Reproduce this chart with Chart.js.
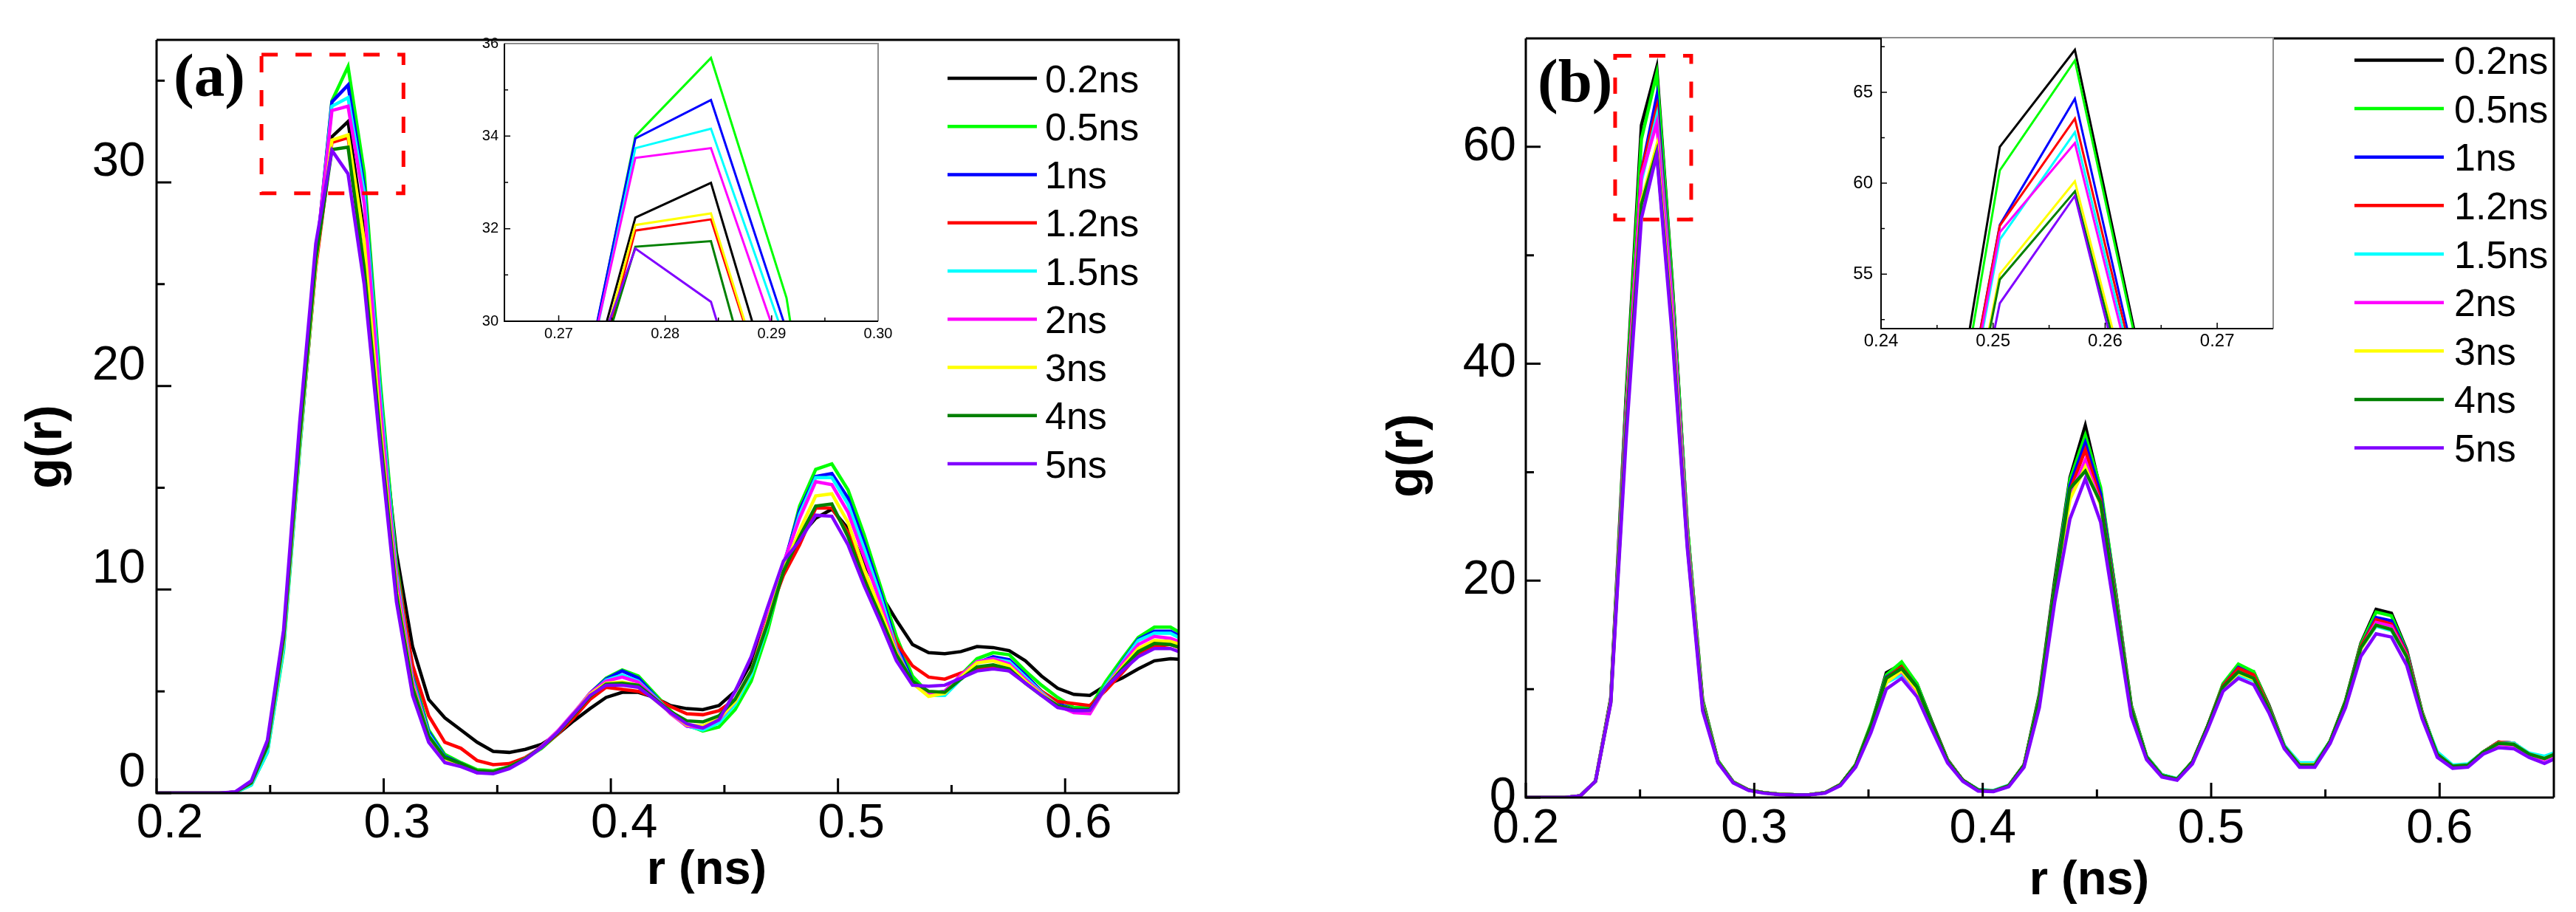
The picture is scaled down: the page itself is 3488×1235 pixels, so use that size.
<!DOCTYPE html>
<html>
<head>
<meta charset="utf-8">
<script src="https://cdn.jsdelivr.net/npm/chart.js@4.4.0/dist/chart.umd.min.js"></script>
<style>
  body { margin: 0; background: #fff; }
  #wrap { position: relative; width: 3488px; height: 1235px; background: #fff; }
  canvas { position: absolute; }
</style>
</head>
<body>
<div id="wrap">
  <canvas id="mainA" width="1744" height="1235" style="left:0;top:0;width:1744px;height:1235px"></canvas>
  <canvas id="mainB" width="1744" height="1235" style="left:1744px;top:0;width:1744px;height:1235px"></canvas>
  <canvas id="insetA" width="620" height="470" style="left:600px;top:30px;width:620px;height:470px"></canvas>
  <canvas id="insetB" width="640" height="470" style="left:2470px;top:20px;width:640px;height:470px"></canvas>
</div>
<script>
// ---- data ----
const seriesLabels = ["0.2ns", "0.5ns", "1ns", "1.2ns", "1.5ns", "2ns", "3ns", "4ns", "5ns"];

// r grid of panel (a)
const rA = [0.1991,0.2062,0.2133,0.2204,0.2275,0.2346,0.2417,0.2488,0.2559,0.2630,
  0.2701,0.2772,0.2843,0.2914,0.2985,0.3056,0.3127,0.3198,0.3269,0.3340,
  0.3411,0.3482,0.3553,0.3624,0.3695,0.3766,0.3837,0.3908,0.3979,0.4050,
  0.4121,0.4192,0.4263,0.4334,0.4405,0.4476,0.4547,0.4618,0.4689,0.4760,
  0.4831,0.4902,0.4973,0.5044,0.5115,0.5186,0.5257,0.5328,0.5399,0.5470,
  0.5541,0.5612,0.5683,0.5754,0.5825,0.5896,0.5967,0.6038,0.6109,0.6180,
  0.6251,0.6322,0.6393,0.6464,0.6535];

const a02 = [0,0,0,0,0,
  0.05,0.5,2.2,7.4,17.2,26.3,
  32.24,32.99,27.5,19.2,11.8,7.2,4.6,3.7,
  3.1,2.5,2.05,2.0,2.15,2.4,2.9,3.55,4.15,4.7,
  4.95,4.95,4.7,4.3,4.15,4.1,4.3,5.0,6.4,8.5,
  10.8,12.6,13.5,13.95,13.0,11.3,9.8,8.5,7.3,6.9,
  6.85,6.95,7.2,7.15,7.0,6.5,5.75,5.15,4.85,4.8,
  5.3,5.65,6.1,6.5,6.6,6.55];
const a05 = [0,0,0,0,0,
  0.03,0.4,2.0,7.0,16.8,26.0,
  34.0,35.69,30.5,20.2,11.3,6.0,3.1,1.9,
  1.5,1.15,1.1,1.3,1.7,2.2,2.9,3.85,4.9,5.65,
  6.05,5.75,4.9,4.05,3.35,3.05,3.25,4.1,5.5,7.9,
  11.0,14.1,15.9,16.17,14.9,12.7,10.2,7.7,5.75,4.9,
  4.95,5.8,6.6,6.9,6.8,6.0,5.3,4.7,4.2,4.2,
  5.5,6.6,7.65,8.15,8.15,7.7];
const a1 = [0,0,0,0,0,
  0.04,0.45,2.2,7.3,17.0,26.1,
  33.95,34.78,29.8,19.6,10.9,5.7,3.0,1.8,
  1.45,1.05,1.0,1.25,1.7,2.25,3.0,3.9,4.9,5.6,
  6.0,5.65,4.8,3.95,3.3,3.15,3.5,4.4,5.9,8.3,
  11.2,13.9,15.55,15.7,14.5,12.3,9.9,7.3,5.5,4.9,
  5.0,5.75,6.4,6.7,6.55,5.8,5.0,4.4,4.1,4.1,
  5.3,6.45,7.55,7.95,7.95,7.55];
const a12 = [0,0,0,0,0,
  0.05,0.5,2.2,7.3,17.0,25.8,
  31.96,32.2,27.1,18.7,11.0,6.3,3.8,2.5,
  2.2,1.6,1.4,1.45,1.75,2.25,2.9,3.7,4.6,5.2,
  5.1,5.0,4.7,4.25,3.9,3.85,4.05,4.6,6.0,8.6,
  10.7,12.2,14.0,14.0,12.8,10.6,9.2,7.4,6.25,5.7,
  5.6,5.9,6.1,6.25,6.0,5.6,5.0,4.5,4.4,4.3,
  5.05,5.9,6.8,7.2,7.3,7.0];
const a15 = [0,0,0,0,0,
  0.03,0.4,2.0,7.1,16.9,26.0,
  33.74,34.16,29.5,19.5,10.8,5.6,2.9,1.75,
  1.4,1.05,1.0,1.25,1.7,2.25,3.0,3.9,4.85,5.55,
  5.8,5.5,4.75,3.95,3.3,3.1,3.45,4.35,5.8,8.2,
  11.1,13.7,15.5,15.5,14.2,12.0,9.7,7.1,5.4,4.8,
  4.8,5.6,6.45,6.6,6.45,5.7,4.95,4.3,4.0,3.95,
  5.3,6.4,7.5,7.85,7.85,7.45];
const a2 = [0,0,0,0,0,
  0.05,0.5,2.3,7.5,17.3,26.3,
  33.53,33.74,29.0,19.0,10.5,5.5,2.8,1.7,
  1.35,1.0,1.0,1.25,1.7,2.3,3.05,3.95,4.9,5.5,
  5.7,5.45,4.7,3.9,3.3,3.2,3.6,4.5,6.0,8.5,
  11.3,13.5,15.3,15.15,13.8,11.6,9.4,7.0,5.4,4.85,
  5.0,5.8,6.45,6.6,6.35,5.6,4.9,4.3,3.95,3.9,
  5.2,6.35,7.3,7.7,7.6,7.3];
const a3 = [0,0,0,0,0,
  0.05,0.5,2.3,7.5,17.2,26.0,
  32.08,32.33,27.1,18.0,10.0,5.3,2.8,1.7,
  1.4,1.1,1.05,1.3,1.7,2.25,3.0,3.9,4.85,5.4,
  5.45,5.3,4.6,3.95,3.35,3.3,3.65,4.5,6.0,8.4,
  11.0,12.9,14.6,14.7,13.3,11.0,9.0,6.9,5.4,4.75,
  4.9,5.7,6.4,6.5,6.25,5.5,4.85,4.3,4.1,4.05,
  5.2,6.2,7.1,7.5,7.45,7.2];
const a4 = [0,0,0,0,0,
  0.05,0.5,2.3,7.6,17.4,26.2,
  31.61,31.73,25.8,17.5,9.8,5.2,2.8,1.75,
  1.45,1.1,1.05,1.3,1.7,2.25,2.95,3.85,4.75,5.35,
  5.4,5.3,4.65,4.0,3.55,3.5,3.8,4.6,6.0,8.3,
  10.9,12.6,14.1,14.2,12.6,10.5,8.7,6.8,5.5,5.0,
  4.95,5.6,6.2,6.3,6.1,5.4,4.8,4.3,4.1,4.1,
  5.2,6.1,6.95,7.35,7.3,7.05];
const a5 = [0,0,0,0,0,
  0.06,0.6,2.6,8.0,18.2,27.0,
  31.57,30.42,25.0,17.0,9.4,4.8,2.5,1.5,
  1.3,1.0,0.95,1.2,1.65,2.25,3.0,3.9,4.8,5.3,
  5.3,5.2,4.6,3.95,3.4,3.2,3.6,5.0,6.7,9.1,
  11.4,12.4,13.65,13.6,12.2,10.2,8.4,6.5,5.3,5.25,
  5.3,5.65,6.0,6.1,6.0,5.4,4.8,4.2,4.05,4.05,
  5.2,6.0,6.7,7.1,7.1,6.8];

// r grid of panel (b)
const rB = [0.1970,0.2037,0.2104,0.2171,0.2238,0.2305,0.2372,0.2439,0.2506,0.2573,
  0.2640,0.2707,0.2774,0.2841,0.2908,0.2975,0.3042,0.3109,0.3176,0.3243,
  0.3310,0.3377,0.3444,0.3511,0.3578,0.3645,0.3712,0.3779,0.3846,0.3913,
  0.3980,0.4047,0.4114,0.4181,0.4248,0.4315,0.4382,0.4449,0.4516,0.4583,
  0.4650,0.4717,0.4784,0.4851,0.4918,0.4985,0.5052,0.5119,0.5186,0.5253,
  0.5320,0.5387,0.5454,0.5521,0.5588,0.5655,0.5722,0.5789,0.5856,0.5923,
  0.5990,0.6057,0.6124,0.6191,0.6258,0.6325,0.6392,0.6459,0.6526];

const b02 = [0,0,0,0,0.15,1.5,9.2,37.0,
  62.0,67.33,47.9,25.0,9.0,3.4,1.45,0.7,0.45,0.3,
  0.25,0.28,0.45,1.2,3.0,6.6,11.5,12.3,10.5,6.9,
  3.5,1.6,0.7,0.6,1.1,3.0,9.5,20.0,29.5,34.3,
  28.3,18.8,8.5,3.8,2.1,1.7,3.3,6.6,10.4,11.9,
  11.6,8.5,4.8,3.0,3.0,5.2,8.9,14.2,17.36,17.0,
  13.6,7.9,4.0,2.9,3.0,4.2,5.1,5.0,4.0,3.6,4.2];
const b05 = [0,0,0,0,0.15,1.5,9.1,36.5,
  60.7,66.74,47.7,25.0,8.9,3.4,1.45,0.7,0.45,0.3,
  0.25,0.28,0.45,1.2,3.05,6.8,11.3,12.5,10.5,6.8,
  3.45,1.6,0.7,0.6,1.1,3.0,9.3,19.6,29.3,33.4,
  28.6,18.8,8.5,3.8,2.1,1.7,3.3,6.6,10.5,12.3,
  11.6,8.4,4.7,3.0,3.0,5.2,8.9,14.1,17.1,16.76,
  13.5,7.9,4.0,2.9,3.0,4.2,5.1,5.0,4.0,3.6,4.2];
const b1 = [0,0,0,0,0.15,1.5,9.0,35.5,
  57.7,64.64,46.5,24.2,8.6,3.3,1.4,0.7,0.45,0.3,
  0.25,0.28,0.45,1.2,3.0,6.6,11.1,12.0,10.2,6.7,
  3.4,1.6,0.7,0.6,1.1,3.0,9.0,19.3,28.8,32.7,
  28.0,18.4,8.3,3.75,2.05,1.7,3.3,6.6,10.3,12.0,
  11.3,8.3,4.7,3.0,3.0,5.2,8.8,13.9,16.6,16.3,
  13.4,7.8,4.0,2.9,3.0,4.2,5.1,5.0,4.0,3.6,4.2];
const b12 = [0,0,0,0,0.15,1.5,9.0,35.5,
  57.66,63.55,46.3,24.2,8.6,3.3,1.4,0.7,0.45,0.3,
  0.25,0.28,0.45,1.2,3.0,6.6,11.0,12.06,10.1,6.7,
  3.4,1.6,0.7,0.6,1.1,3.0,9.0,19.3,28.3,32.05,
  27.4,18.3,8.3,3.75,2.05,1.7,3.3,6.6,10.3,11.9,
  11.3,8.3,4.7,3.0,3.0,5.2,8.8,13.9,16.4,16.0,
  13.3,7.8,4.0,2.9,3.0,4.2,5.1,5.0,4.0,3.6,4.2];
const b15 = [0,0,0,0,0.15,1.5,8.9,35.0,
  56.9,62.8,45.9,24.0,8.5,3.3,1.4,0.7,0.45,0.3,
  0.25,0.28,0.45,1.2,3.0,6.5,10.6,11.3,9.9,6.6,
  3.4,1.6,0.75,0.65,1.15,3.0,8.9,19.1,28.0,30.8,
  27.0,18.0,8.2,3.8,2.1,1.75,3.3,6.5,10.1,11.3,
  10.8,8.2,4.8,3.2,3.2,5.2,8.7,13.7,15.8,15.4,
  13.0,7.7,4.2,3.0,3.1,4.2,5.0,5.0,4.1,3.8,4.3];
const b2 = [0,0,0,0,0.15,1.5,8.9,35.0,
  57.3,62.2,45.5,24.0,8.5,3.3,1.4,0.7,0.45,0.3,
  0.25,0.28,0.45,1.2,3.0,6.5,10.7,11.6,9.8,6.6,
  3.4,1.6,0.7,0.6,1.1,3.0,8.9,19.0,27.8,31.1,
  27.1,18.0,8.1,3.7,2.0,1.65,3.2,6.5,10.1,11.6,
  11.0,8.2,4.6,2.9,2.9,5.1,8.7,13.7,16.15,15.8,
  13.1,7.7,3.9,2.8,2.9,4.1,4.9,4.8,3.9,3.5,4.1];
const b3 = [0,0,0,0,0.15,1.5,8.8,34.0,
  55.0,60.1,43.9,23.5,8.4,3.3,1.4,0.7,0.45,0.3,
  0.25,0.28,0.45,1.2,3.0,6.5,10.6,11.7,9.9,6.6,
  3.4,1.6,0.7,0.6,1.1,3.0,8.9,19.0,27.5,30.5,
  27.0,17.8,8.1,3.75,2.05,1.7,3.3,6.5,10.1,11.5,
  10.9,8.2,4.7,3.05,3.05,5.2,8.7,13.7,15.9,15.5,
  13.0,7.7,4.0,2.9,3.0,4.2,5.0,4.9,4.0,3.6,4.2];
const b4 = [0,0,0,0,0.15,1.5,8.8,34.0,
  54.7,59.55,43.5,23.3,8.4,3.3,1.4,0.7,0.45,0.3,
  0.25,0.28,0.45,1.2,3.0,6.6,11.0,11.9,10.2,6.7,
  3.4,1.6,0.7,0.6,1.1,3.0,9.0,19.2,28.5,30.1,
  27.2,17.9,8.2,3.75,2.05,1.7,3.3,6.6,10.2,11.6,
  11.0,8.2,4.7,3.0,3.0,5.2,8.8,13.8,15.9,15.5,
  13.0,7.7,4.0,2.9,3.0,4.2,5.0,4.9,4.0,3.6,4.2];
const b5 = [0,0,0,0,0.15,1.5,8.7,33.0,
  53.4,59.3,42.8,23.0,8.0,3.2,1.35,0.65,0.4,0.28,
  0.22,0.25,0.4,1.1,2.8,6.0,10.0,11.0,9.3,6.2,
  3.2,1.5,0.6,0.55,1.0,2.8,8.3,18.0,25.7,29.4,
  25.4,16.5,7.5,3.5,1.9,1.6,3.1,6.3,9.8,11.0,
  10.4,7.8,4.5,2.8,2.8,5.0,8.3,13.0,15.1,14.8,
  12.2,7.3,3.7,2.7,2.8,4.0,4.6,4.5,3.7,3.15,3.8];

// tick values
const xTicksMain = [0.2, 0.3, 0.4, 0.5, 0.6];
const xMinorMain = [0.25, 0.35, 0.45, 0.55];
const yTicksA = [0, 10, 20, 30];
const yMinorA = [5, 15, 25, 35];
const yTicksB = [0, 20, 40, 60];
const yMinorB = [10, 30, 50];
const xTicksInA = [0.27, 0.28, 0.29, 0.30];
const xMinorInA = [0.275, 0.285, 0.295];
const yTicksInA = [30, 32, 34, 36];
const yMinorInA = [31, 33, 35];
const xTicksInB = [0.24, 0.25, 0.26, 0.27];
const xMinorInB = [0.245, 0.255, 0.265];
const yTicksInB = [55, 60, 65];
const yMinorInB = [52.5, 57.5, 62.5, 67.5];

// ---- styling ----
const seriesColors = ["#000000", "#00ff00", "#0000ff", "#ff0000", "#00ffff",
  "#ff00ff", "#ffff00", "#008000", "#8000ff"];
const SANS = "'Liberation Sans', Arial, sans-serif";
const SERIF = "'Liberation Serif', 'Times New Roman', serif";

Chart.defaults.font.family = SANS;
Chart.defaults.color = "#000";

// extra drawing per canvas: inward ticks, frame, titles, box, legend
const decoById = {};

const decoPlugin = {
  id: "deco",
  beforeDatasetsDraw(chart) {
    const a = chart.chartArea;
    chart.ctx.save();
    chart.ctx.fillStyle = "#fff";
    chart.ctx.fillRect(a.left, a.top, a.right - a.left, a.bottom - a.top);
    chart.ctx.restore();
  },
  afterDraw(chart) {
    const d = decoById[chart.canvas.id];
    const ctx = chart.ctx;
    const a = chart.chartArea;
    const sx = chart.scales.x;
    const sy = chart.scales.y;
    ctx.save();

    // ticks pointing into the plot
    ctx.strokeStyle = "#000";
    ctx.lineWidth = d.tickWidth;
    ctx.beginPath();
    const xt = (vals, len) => vals.forEach((v) => {
      const p = sx.getPixelForValue(v);
      ctx.moveTo(p, a.bottom);
      ctx.lineTo(p, a.bottom - len);
    });
    const yt = (vals, len) => vals.forEach((v) => {
      const p = sy.getPixelForValue(v);
      ctx.moveTo(a.left, p);
      ctx.lineTo(a.left + len, p);
    });
    xt(d.xMajor, d.majorLen);
    xt(d.xMinor, d.minorLen);
    yt(d.yMajor, d.majorLen);
    yt(d.yMinor, d.minorLen);
    ctx.stroke();

    // frame
    ctx.lineWidth = d.frameWidth;
    ctx.strokeStyle = d.frameTopColor;
    ctx.beginPath();
    ctx.moveTo(a.left, a.top);
    ctx.lineTo(a.right, a.top);
    ctx.lineTo(a.right, a.bottom);
    ctx.stroke();
    ctx.strokeStyle = "#000";
    ctx.beginPath();
    ctx.moveTo(a.left, a.top);
    ctx.lineTo(a.left, a.bottom);
    ctx.lineTo(a.right, a.bottom);
    ctx.stroke();

    // zoom box
    if (d.box) {
      const x0 = sx.getPixelForValue(d.box.r0), x1 = sx.getPixelForValue(d.box.r1);
      const y0 = sy.getPixelForValue(d.box.g1), y1 = sy.getPixelForValue(d.box.g0);
      ctx.strokeStyle = "#ff0000";
      ctx.lineWidth = 5;
      ctx.setLineDash([22, 24]);
      ctx.strokeRect(x0, y0, x1 - x0, y1 - y0);
      ctx.setLineDash([]);
    }

    // axis titles and panel tag
    ctx.fillStyle = "#000";
    if (d.xTitle) {
      ctx.font = "bold 65px " + SANS;
      ctx.textAlign = "center";
      ctx.textBaseline = "middle";
      ctx.fillText("r (ns)", d.xTitle[0], d.xTitle[1]);
      ctx.save();
      ctx.translate(d.yTitle[0], d.yTitle[1]);
      ctx.rotate(-Math.PI / 2);
      ctx.font = "bold 68px " + SANS;
      ctx.fillText("g(r)", 0, 0);
      ctx.restore();
    }
    if (d.tag) {
      ctx.font = "bold 83px " + SERIF;
      ctx.textAlign = "left";
      ctx.textBaseline = "alphabetic";
      ctx.fillText(d.tag.text, d.tag.x, d.tag.y);
    }

    // legend
    if (d.legend) {
      const L = d.legend;
      ctx.font = "52px " + SANS;
      ctx.textAlign = "left";
      ctx.textBaseline = "alphabetic";
      chart.data.datasets.forEach((ds, i) => {
        const y = L.y0 + i * L.dy;
        ctx.strokeStyle = ds.borderColor;
        ctx.lineWidth = 4.5;
        ctx.beginPath();
        ctx.moveTo(L.x0, y);
        ctx.lineTo(L.x1, y);
        ctx.stroke();
        ctx.fillStyle = "#000";
        ctx.fillText(ds.label, L.tx, y + 18.5);
      });
    }
    ctx.restore();
  },
};

function makeSets(r, cols, width) {
  return cols.map((vals, i) => ({
    label: seriesLabels[i],
    data: vals.map((v, k) => ({ x: r[k], y: v })),
    borderColor: seriesColors[i],
    backgroundColor: seriesColors[i],
    borderWidth: width,
    pointRadius: 0,
    tension: 0,
    fill: false,
    order: cols.length - 1 - i,
  }));
}

function makeChart(id, r, cols, o) {
  decoById[id] = o.deco;
  return new Chart(document.getElementById(id), {
    type: "line",
    data: { datasets: makeSets(r, cols, o.lineWidth) },
    options: {
      responsive: false,
      animation: false,
      devicePixelRatio: 1,
      events: [],
      layout: { padding: { top: o.padTop, right: o.padRight, left: 0, bottom: 0 } },
      plugins: { legend: { display: false }, tooltip: { enabled: false } },
      scales: {
        x: {
          type: "linear",
          min: o.xMin,
          max: o.xMax,
          grid: { display: false, drawTicks: false },
          border: { display: false },
          afterBuildTicks: (s) => { s.ticks = o.xTicks.map((v) => ({ value: v })); },
          afterFit: (s) => { s.height = o.xAxisH; },
          ticks: {
            font: { size: o.tickSize },
            color: "#000",
            padding: o.xPad,
            labelOffset: o.xLabelOff,
            maxRotation: 0,
            autoSkip: false,
            callback: (v) => Number(v).toFixed(o.xDec),
          },
        },
        y: {
          type: "linear",
          min: o.yMin,
          max: o.yMax,
          grid: { display: false, drawTicks: false },
          border: { display: false },
          afterBuildTicks: (s) => { s.ticks = o.yTicks.map((v) => ({ value: v })); },
          afterFit: (s) => { s.width = o.yAxisW; },
          ticks: {
            font: { size: o.tickSize },
            color: "#000",
            padding: o.yPad,
            labelOffset: o.yLabelOff,
            autoSkip: false,
            callback: (v) => String(v),
          },
        },
      },
    },
    plugins: [decoPlugin],
  });
}

const colsA = [a02, a05, a1, a12, a15, a2, a3, a4, a5];
const colsB = [b02, b05, b1, b12, b15, b2, b3, b4, b5];

// panel (a)
makeChart("mainA", rA, colsA, {
  lineWidth: 4.5, xMin: 0.2, xMax: 0.65, yMin: 0, yMax: 37,
  xTicks: xTicksMain, yTicks: yTicksA, xDec: 1, tickSize: 65,
  padTop: 44, padRight: 148, xAxisH: 161, yAxisW: 212,
  xPad: 3, yPad: 15, xLabelOff: 18, yLabelOff: -27,
  deco: {
    xMajor: xTicksMain, xMinor: xMinorMain, yMajor: yTicksA, yMinor: yMinorA,
    tickWidth: 3, majorLen: 20, minorLen: 11, frameWidth: 3, frameTopColor: "#000",
    xTitle: [957, 1179], yTitle: [64, 605],
    tag: { text: "(a)", x: 235, y: 130 },
    box: { r0: 0.2462, r1: 0.3087, g0: 29.46, g1: 36.27 },
    legend: { x0: 1283, x1: 1404, tx: 1415, y0: 106, dy: 65.25 },
  },
});

// panel (b)
makeChart("mainB", rB, colsB, {
  lineWidth: 4.5, xMin: 0.2, xMax: 0.65, yMin: 0, yMax: 70,
  xTicks: xTicksMain, yTicks: yTicksB, xDec: 1, tickSize: 65,
  padTop: 44, padRight: 30, xAxisH: 155, yAxisW: 322,
  xPad: 4, yPad: 13, xLabelOff: 0, yLabelOff: 0,
  deco: {
    xMajor: xTicksMain, xMinor: xMinorMain, yMajor: yTicksB, yMinor: yMinorB,
    tickWidth: 3, majorLen: 20, minorLen: 11, frameWidth: 3, frameTopColor: "#000",
    xTitle: [1085, 1193], yTitle: [163, 617],
    tag: { text: "(b)", x: 338, y: 137 },
    box: { r0: 0.2391, r1: 0.2724, g0: 53.3, g1: 68.4 },
    legend: { x0: 1444, x1: 1565, tx: 1579, y0: 81.4, dy: 65.65 },
  },
});

// inset of (a)
makeChart("insetA", rA, colsA, {
  lineWidth: 3, xMin: 0.2649, xMax: 0.30, yMin: 30, yMax: 36,
  xTicks: xTicksInA, yTicks: yTicksInA, xDec: 2, tickSize: 20,
  padTop: 29, padRight: 31, xAxisH: 65, yAxisW: 83,
  xPad: 5, yPad: 8, xLabelOff: 0, yLabelOff: 0,
  deco: {
    xMajor: xTicksInA, xMinor: xMinorInA, yMajor: yTicksInA, yMinor: yMinorInA,
    tickWidth: 1.5, majorLen: 8, minorLen: 5, frameWidth: 2, frameTopColor: "#8c8c8c",
  },
});

// inset of (b)
makeChart("insetB", rB, colsB, {
  lineWidth: 3, xMin: 0.24, xMax: 0.275, yMin: 52, yMax: 68,
  xTicks: xTicksInB, yTicks: yTicksInB, xDec: 2, tickSize: 24,
  padTop: 31, padRight: 32, xAxisH: 45, yAxisW: 77,
  xPad: 3, yPad: 11, xLabelOff: 0, yLabelOff: 0,
  deco: {
    xMajor: xTicksInB, xMinor: xMinorInB, yMajor: yTicksInB, yMinor: yMinorInB,
    tickWidth: 1.5, majorLen: 8, minorLen: 5, frameWidth: 2, frameTopColor: "#8c8c8c",
  },
});
</script>
</body>
</html>
